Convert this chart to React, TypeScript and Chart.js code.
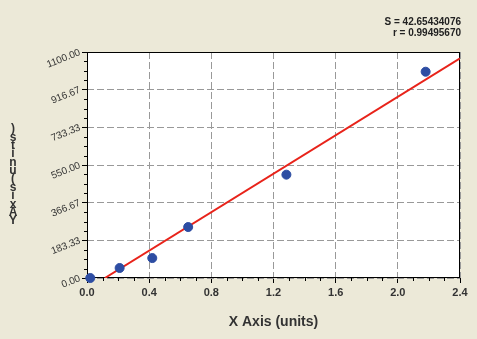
import React, { useEffect, useRef } from "react";
import { Chart, registerables } from "chart.js";

Chart.register(...registerables);

const pointX = [0.021, 0.21, 0.42, 0.651, 1.283, 2.179];
const pointY = [0, 48.7, 97, 248, 503, 1004];
const fitX = [0.115, 2.4];
const fitY = [0, 1069];
const yTickValues = [0, 183.33, 366.67, 550, 733.33, 916.67, 1100];
const xTickValues = [0, 0.4, 0.8, 1.2, 1.6, 2.0, 2.4];
const statLines = ["S = 42.65434076", "r = 0.99495670"];
const xTitle = "X Axis (units)";
const yTitle = "Y Axis (units)";

const BG = "#ECE9D8";

const decorPlugin = {
  id: "decor",
  beforeDraw(chart: any) {
    const { ctx, chartArea } = chart;
    ctx.save();
    ctx.fillStyle = BG;
    ctx.fillRect(0, 0, chart.width, chart.height);
    ctx.fillStyle = "#ffffff";
    ctx.fillRect(chartArea.left, chartArea.top, chartArea.right - chartArea.left, chartArea.bottom - chartArea.top);
    ctx.restore();
  },
  beforeDatasetsDraw(chart: any) {
    const { ctx, chartArea } = chart;
    const xs = chart.scales.x;
    const ys = chart.scales.y;
    ctx.save();
    ctx.strokeStyle = "#000";
    ctx.lineWidth = 1;
    ctx.strokeRect(chartArea.left + 0.5, chartArea.top + 0.5, chartArea.right - chartArea.left - 1, chartArea.bottom - chartArea.top - 1);
    ctx.beginPath();
    for (let i = 0; i < xTickValues.length - 1; i++) {
      const a = xTickValues[i], b = xTickValues[i + 1];
      for (let k = 1; k < 4; k++) {
        const px = Math.round(xs.getPixelForValue(a + ((b - a) * k) / 4)) + 0.5;
        ctx.moveTo(px, chartArea.bottom);
        ctx.lineTo(px, chartArea.bottom + 3);
      }
    }
    for (let i = 0; i < yTickValues.length - 1; i++) {
      const a = yTickValues[i], b = yTickValues[i + 1];
      for (let k = 1; k < 4; k++) {
        const py = Math.round(ys.getPixelForValue(a + ((b - a) * k) / 4)) + 0.5;
        ctx.moveTo(chartArea.left, py);
        ctx.lineTo(chartArea.left - 3, py);
      }
    }
    ctx.stroke();
    ctx.restore();
  },
  afterDraw(chart: any) {
    const { ctx, chartArea } = chart;
    ctx.save();
    ctx.fillStyle = "#222";
    ctx.font = "bold 10px Arial, 'Liberation Sans', sans-serif";
    ctx.textAlign = "right";
    ctx.textBaseline = "middle";
    ctx.fillText(statLines[0], 461, 22);
    ctx.fillText(statLines[1], 461, 33);
    ctx.fillStyle = "#333";
    ctx.font = "bold 14px Arial, 'Liberation Sans', sans-serif";
    ctx.textAlign = "center";
    ctx.fillText(xTitle, (chartArea.left + chartArea.right) / 2, 322);
    const chars = yTitle.replace(/ /g, "").split("");
    ctx.font = "bold 12px Arial, 'Liberation Sans', sans-serif";
    const yBottom = 221;
    const yTop = 129;
    const step = (yBottom - yTop) / (chars.length - 1);
    chars.forEach((c, i) => {
      ctx.fillText(c, 13, yBottom - i * step);
    });
    ctx.restore();
  },
};

export default function App() {
  const ref = useRef<HTMLCanvasElement | null>(null);
  useEffect(() => {
    if (!ref.current) return;
    const chart = new Chart(ref.current, {
      type: "scatter",
      data: {
        datasets: [
          {
            type: "line",
            data: fitX.map((x, i) => ({ x, y: fitY[i] })),
            borderColor: "#E8231A",
            borderWidth: 2,
            pointRadius: 0,
            fill: false,
            order: 2,
          } as any,
          {
            data: pointX.map((x, i) => ({ x, y: pointY[i] })),
            backgroundColor: "#2D4DA3",
            borderColor: "#2D4DA3",
            pointRadius: 4.5,
            clip: false,
            order: 1,
          },
        ],
      },
      options: {
        animation: false,
        responsive: true,
        maintainAspectRatio: false,
        layout: { padding: { left: 0, top: 52, right: 17, bottom: 0 } },
        plugins: { legend: { display: false }, tooltip: { enabled: false } },
        scales: {
          x: {
            type: "linear",
            min: 0,
            max: 2.4,
            afterBuildTicks: (s: any) => {
              s.ticks = xTickValues.map((v) => ({ value: v }));
            },
            afterFit: (s: any) => {
              s.height = 61;
            },
            ticks: {
              callback: (v: any) => Number(v).toFixed(1),
              color: "#333",
              font: { family: "Arial, 'Liberation Sans', sans-serif", size: 11, weight: "bold" },
              padding: 3,
              maxRotation: 0,
            },
            grid: { color: "#999", tickColor: "#000", tickLength: 5, drawOnChartArea: true },
            border: { display: false, dash: [7, 3] },
          },
          y: {
            type: "linear",
            min: 0,
            max: 1100,
            afterBuildTicks: (s: any) => {
              s.ticks = yTickValues.map((v) => ({ value: v }));
            },
            afterFit: (s: any) => {
              s.width = 87;
            },
            ticks: {
              callback: (v: any) => Number(v).toFixed(2),
              color: "#333",
              font: { family: "Arial, 'Liberation Sans', sans-serif", size: 10 },
              padding: 2,
              minRotation: 22,
              maxRotation: 22,
            },
            grid: { color: "#999", tickColor: "#000", tickLength: 5 },
            border: { display: false, dash: [7, 3] },
          },
        },
      } as any,
      plugins: [decorPlugin],
    });
    return () => chart.destroy();
  }, []);
  return (
    <div style={{ position: "fixed", left: 0, top: 0, width: 477, height: 339 }}>
      <canvas ref={ref} />
    </div>
  );
}
